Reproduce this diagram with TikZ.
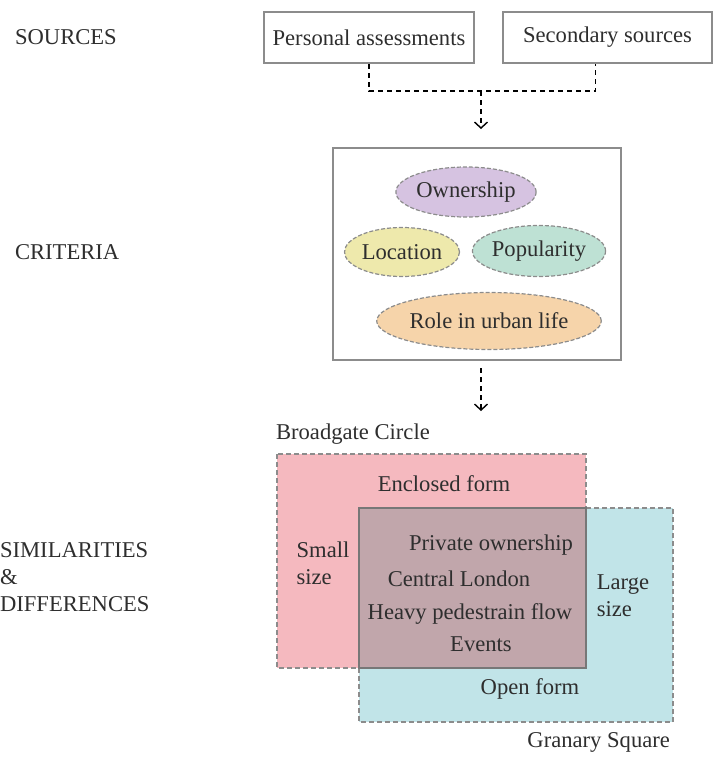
\documentclass[tikz,border=0pt]{standalone}
\usepackage{fontspec}
\setmainfont{Liberation Serif}
\usetikzlibrary{arrows.meta,positioning,calc,shapes.geometric}
\definecolor{framegray}{HTML}{8C8C8C}
\definecolor{owncol}{HTML}{D6C3E1}
\definecolor{loccol}{HTML}{EEE9AC}
\definecolor{popcol}{HTML}{BEE1D4}
\definecolor{rolecol}{HTML}{F6D4AA}
\definecolor{broadcol}{HTML}{F5B9BF}
\definecolor{granarycol}{HTML}{C1E4E8}
\definecolor{sharedcol}{HTML}{C1A6AB}
\definecolor{inkgray}{HTML}{2E2E2E}

\begin{document}
\begin{tikzpicture}[x=0.5pt, y=-0.5pt,
  every node/.style={font=\fontsize{11.3}{13.5}\selectfont, text=inkgray},
  srcbox/.style={draw=framegray, line width=1pt, minimum width=#1, minimum height=25.5pt, inner sep=0pt},
  critoval/.style={ellipse, draw=framegray, dash pattern=on 2pt off 1pt, line width=0.6pt, fill=#1, inner sep=0pt},
  flow/.style={-{Straight Barb[length=3pt,width=6.5pt]}, dash pattern=on 2.5pt off 2pt, line width=0.7pt},
  stage/.style={anchor=west, align=left},
  setedge/.style={framegray, line width=0.6pt, dash pattern=on 2.5pt off 1.5pt}
]
  \useasboundingbox (0,0) rectangle (720,761);

  % stage labels
  \node[stage] (lsrc) at (8,37) {SOURCES};
  \node[stage] (lcrit) at (8,252) {CRITERIA};
  \node[stage] (lsim) at (-7,577) {SIMILARITIES\\\&\\DIFFERENCES};

  % sources
  \node[srcbox=105pt] (pers) at (369,37.5) {Personal assessments};
  \node[srcbox=104.5pt] (second) at (607.5,37.5) {Secondary sources};
  \coordinate (join) at (481,91);
  \coordinate (secfoot) at ($(second.south)+(-12,0)$);
  \draw[flow, -] (pers.south) |- (join) -| (secfoot);

  % criteria
  \node[srcbox=144pt, minimum height=106pt] (critbox) at (477,254) {};
  \node[critoval=owncol, minimum width=60pt, minimum height=25pt] (own) at (466,192) {Ownership};
  \node[critoval=loccol, minimum width=57.5pt, minimum height=24.5pt] (loc) at (402,252) {Location};
  \node[critoval=popcol, minimum width=66pt, minimum height=25.5pt] (pop) at (539,251) {Popularity};
  \node[critoval=rolecol, minimum width=99pt, minimum height=28.5pt] (role) at (489,321) {Role in urban life};
  \draw[flow] (join) -- (join |- critbox.north) [shorten >=9pt];
  \coordinate (venntop) at (481,411);
  \draw[flow, shorten <=3.5pt] (critbox.south -| venntop) -- (venntop);

  % similarities & differences
  \fill[broadcol] (277,454) rectangle (586,668);
  \fill[granarycol] (359,508) rectangle (673,722);
  \fill[sharedcol] (359,508) rectangle (586,668);
  \draw[setedge] (277,454) rectangle (586,668);
  \draw[setedge] (359,508) rectangle (673,722);
  \draw[framegray!85!black, line width=0.6pt] (359,508) rectangle (586,668);

  \node[anchor=west] (broad) at (269,434) {Broadgate Circle};
  \node[anchor=east] (granary) at (677,742) {Granary Square};
  \node (encl) at (444,484) {Enclosed form};
  \node[align=left] (small) at (323,563) {Small\\size};
  \node (priv) at (491,545) {Private ownership};
  \node (central) at (459,579) {Central London};
  \node (heavy) at (470,614) {Heavy pedestrain flow};
  \node (events) at (481,644) {Events};
  \node[align=left] (large) at (623,596) {Large\\size};
  \node (openf) at (530,689) {Open form};
\end{tikzpicture}
\end{document}
